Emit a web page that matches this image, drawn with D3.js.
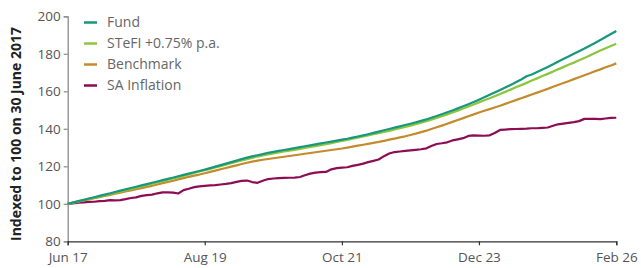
<!DOCTYPE html>
<html><head><meta charset="utf-8">
<script src="https://cdn.jsdelivr.net/npm/d3@7"></script>
<style>
html,body{margin:0;padding:0;background:#fff;}
svg{display:block;}
text{font-family:"Open Sans",sans-serif;}
</style></head>
<body>
<svg id="chart" width="641" height="268"></svg>
<script>
// Monthly observations, Jun 2017 .. Feb 2026
const startMonth = "2017-06";
const endMonth = "2026-02";
const seriesNames = ["Fund", "STeFI +0.75% p.a.", "Benchmark", "SA Inflation"];
const fund = [
100.0,100.7,101.4,102.1,102.8,103.5,104.2,104.9,105.6,106.3,107.0,107.7,108.4,109.1,109.8,110.5,111.2,111.9,112.6,113.3,
114.0,114.7,115.4,116.1,116.8,117.5,118.2,119.0,119.8,120.6,121.4,122.2,123.0,123.8,124.6,125.3,125.9,126.5,127.2,127.7,
128.2,128.7,129.2,129.7,130.2,130.7,131.2,131.7,132.2,132.7,133.2,133.7,134.2,134.7,135.3,135.9,136.5,137.1,137.8,138.5,
139.2,139.9,140.6,141.3,142.0,142.7,143.4,144.2,145.0,145.9,146.8,147.8,148.8,149.8,150.9,152.0,153.1,154.3,155.5,156.8,
158.1,159.4,160.7,162.0,163.4,164.8,166.3,168.0,169.0,170.3,171.6,173.0,174.4,175.8,177.2,178.6,180.0,181.4,182.8,184.3,
185.8,187.4,189.0,190.6,192.2];
const stefi = [
100.0,100.6,101.3,101.9,102.6,103.2,103.9,104.5,105.2,105.9,106.5,107.2,107.9,108.6,109.3,110.0,110.7,111.4,112.1,112.8,
113.5,114.2,114.9,115.7,116.4,117.2,117.9,118.6,119.4,120.1,120.9,121.6,122.4,123.1,123.8,124.5,125.2,125.8,126.4,126.9,
127.4,127.9,128.4,128.8,129.3,129.8,130.3,130.8,131.3,131.8,132.4,133.0,133.6,134.1,134.7,135.3,135.9,136.5,137.1,137.7,
138.3,138.9,139.6,140.3,141.0,141.7,142.4,143.2,144.0,144.9,145.8,146.7,147.7,148.7,149.7,150.8,151.9,153.0,154.1,155.2,
156.3,157.4,158.6,159.7,160.9,162.1,163.3,164.5,165.7,166.9,168.1,169.3,170.5,171.7,172.9,174.1,175.3,176.5,177.8,179.1,
180.4,181.7,183.0,184.2,185.4];
const benchmark = [
100.0,100.6,101.2,101.8,102.4,103.0,103.6,104.2,104.8,105.4,106.0,106.6,107.2,107.8,108.4,109.0,109.6,110.3,111.0,111.7,
112.3,113.0,113.7,114.4,115.0,115.6,116.3,117.0,117.7,118.4,119.1,119.8,120.5,121.2,121.9,122.5,123.0,123.5,123.9,124.3,
124.7,125.1,125.5,125.9,126.3,126.7,127.1,127.5,127.9,128.3,128.7,129.1,129.5,130.0,130.5,131.0,131.5,132.0,132.5,133.0,
133.6,134.2,134.8,135.4,136.0,136.7,137.4,138.2,139.0,139.9,140.8,141.7,142.7,143.7,144.7,145.7,146.7,147.7,148.7,149.6,
150.5,151.4,152.3,153.3,154.3,155.3,156.3,157.3,158.3,159.3,160.3,161.3,162.4,163.4,164.4,165.4,166.5,167.5,168.6,169.6,
170.7,171.7,172.8,173.8,174.9];
const inflation = [
100.0,100.2,100.6,100.8,101.0,101.1,101.4,101.6,102.0,101.8,102.0,102.5,103.1,103.4,104.2,104.6,104.9,105.6,106.1,106.1,
106.0,105.5,107.3,108.0,108.9,109.3,109.6,109.8,110.0,110.3,110.6,111.0,111.7,112.2,112.4,111.6,111.2,112.3,113.2,113.5,
113.7,113.8,113.9,114.0,114.3,115.2,116.1,116.6,116.9,117.0,118.4,119.0,119.3,119.5,120.2,120.8,121.4,122.2,122.9,123.6,
125.4,126.8,127.6,127.9,128.2,128.5,128.8,129.1,129.6,130.8,131.9,132.3,132.8,133.8,134.4,135.0,136.2,136.5,136.4,136.3,
136.5,137.8,139.4,139.6,139.8,139.9,140.0,140.1,140.3,140.3,140.5,140.7,141.6,142.4,142.8,143.2,143.6,144.1,145.3,145.3,
145.3,145.2,145.5,145.8,145.9];
const yTicks = [80, 100, 120, 140, 160, 180, 200];
const xTickLabels = ["Jun 17", "Aug 19", "Oct 21", "Dec 23", "Feb 26"];
const xTickMonths = ["2017-06", "2019-08", "2021-10", "2023-12", "2026-02"];
const colors = ["#17977c", "#8cc63f", "#c48b2d", "#8c0d52"];

const parse = d3.timeParse("%Y-%m");
const months = d3.timeMonth.range(parse(startMonth), d3.timeMonth.offset(parse(endMonth), 1));
const allSeries = [fund, stefi, benchmark, inflation];

const svg = d3.select("#chart");
const x = d3.scaleTime().domain([parse(startMonth), parse(endMonth)]).range([67.7, 616.3]);
const y = d3.scaleLinear().domain([80, 200]).range([241.3, 16.3]);

// y axis
const yAxis = svg.append("g").attr("transform", "translate(67.7,0)")
  .call(d3.axisLeft(y).tickValues(yTicks).tickSize(4).tickPadding(3).tickFormat(d3.format("d")));
yAxis.select(".domain").attr("stroke", "#8a8a8a").attr("stroke-width", 1.3);
yAxis.selectAll(".tick line").attr("stroke", "#8a8a8a").attr("stroke-width", 1.2);
yAxis.selectAll("text").attr("fill", "#555").style("font-size", "13.5px");

// x axis
const xAxis = svg.append("g").attr("transform", "translate(0,241.3)")
  .call(d3.axisBottom(x).tickValues(xTickMonths.map(parse)).tickSize(4).tickPadding(7)
    .tickFormat((d, i) => xTickLabels[i]));
xAxis.select(".domain").attr("stroke", "#333").attr("stroke-width", 1.2);
xAxis.selectAll(".tick line").attr("stroke", "#333").attr("stroke-width", 1.2);
xAxis.selectAll("text").attr("fill", "#555").style("font-size", "13.5px");

// y title
svg.append("text")
  .attr("transform", "translate(21,134) rotate(-90)")
  .attr("text-anchor", "middle")
  .attr("fill", "#222")
  .style("font-size", "14px").style("font-weight", "700")
  .text("Indexed to 100 on 30 June 2017");

// lines (draw inflation first, fund last)
const line = d3.line().x((d, i) => x(months[i])).y(d => y(d)).curve(d3.curveLinear);
[3, 2, 1, 0].forEach(k => {
  svg.append("path").datum(allSeries[k])
    .attr("d", line)
    .attr("fill", "none")
    .attr("stroke", colors[k])
    .attr("stroke-width", 2.2)
    .attr("stroke-linejoin", "round");
});

// legend
const lg = svg.append("g");
seriesNames.forEach((name, k) => {
  const yy = 22.5 + k * 21;
  lg.append("line").attr("x1", 84).attr("x2", 97).attr("y1", yy).attr("y2", yy)
    .attr("stroke", colors[k]).attr("stroke-width", 2.5);
  lg.append("text").attr("x", 107).attr("y", yy).attr("dy", "0.35em")
    .attr("fill", "#666").style("font-size", "14px").text(name);
});
</script>
</body></html>
